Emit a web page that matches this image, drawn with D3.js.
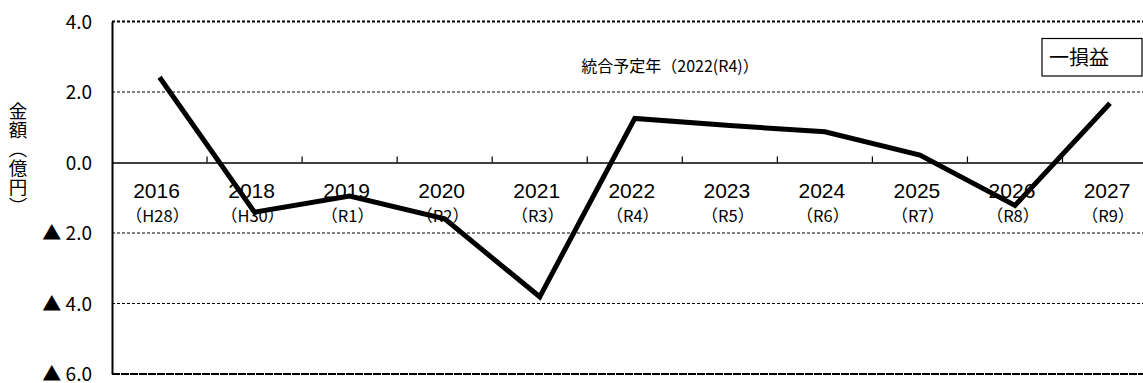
<!DOCTYPE html>
<html><head><meta charset="utf-8">
<script src="https://cdn.jsdelivr.net/npm/d3@7"></script>
<style>body{margin:0;background:#fff;}svg{display:block;}</style>
</head><body>
<svg id="c" width="1143" height="383"></svg>
<script>
const years = ["2016","2018","2019","2020","2021","2022","2023","2024","2025","2026","2027"];
const eras = ["（H28）","（H30）","（R1）","（R2）","（R3）","（R4）","（R5）","（R6）","（R7）","（R8）","（R9）"];
const values = [2.42, -1.41, -0.95, -1.6, -3.81, 1.25, 1.05, 0.87, 0.21, -1.22, 1.68];
const yTicks = [4, 2, 0, -2, -4, -6];
const yTickLabels = ["4.0","2.0","0.0","▲ 2.0","▲ 4.0","▲ 6.0"];
const seriesName = "一損益";
const note = "統合予定年（2022(R4)）";
const yTitle = "金額（億円）";

const svg = d3.select("#c");
const left = 112, bw = 95.05;
const x = d3.scaleBand().domain(years).range([left, left + bw*years.length]);
const y = d3.scaleLinear().domain([-6, 4]).range([374, 21.5]);
const cjk = "'Noto Sans CJK JP', sans-serif";
const num = "'Liberation Sans', 'Noto Sans CJK JP', sans-serif";

// gridlines
svg.append("g").selectAll("line").data(yTicks.filter(d => d !== 0))
  .join("line")
  .attr("x1", left).attr("x2", 1143)
  .attr("y1", d => y(d)).attr("y2", d => y(d))
  .attr("stroke", "#000")
  .attr("stroke-width", d => (d === 4 || d === -6) ? 1.8 : 1)
  .attr("stroke-dasharray", d => d === -6 ? "8,1" : "3,2");

// x axis at zero with upward ticks
const xAxis = d3.axisTop(x).tickSize(0).tickFormat("");
const gx = svg.append("g").attr("transform", `translate(0,${y(0)})`).call(xAxis);
gx.select(".domain").attr("stroke", "#000").attr("stroke-width", 1.5);
gx.selectAll(".tk").data(years.slice(1)).join("line").attr("class","tk")
  .attr("x1", d => x(d)).attr("x2", d => x(d)).attr("y1", 0).attr("y2", -6)
  .attr("stroke", "#000").attr("stroke-width", 1.2);

// y axis
const yAxis = d3.axisLeft(y).tickValues(yTicks).tickSize(0).tickPadding(20)
  .tickFormat((d, i) => yTickLabels[i]);
const gy = svg.append("g").attr("transform", `translate(${left},0)`).call(yAxis);
gy.select(".domain").attr("stroke", "#000").attr("stroke-width", 2);
gy.selectAll("text").attr("font-family", cjk).attr("font-size", 19).attr("fill", "#000")
  .attr("dy", "0.36em");

// category labels
const lab = svg.append("g");
lab.selectAll(".yr").data(years).join("text").attr("class","yr")
  .attr("x", d => x(d) + x.bandwidth()/2 - 3).attr("y", 198)
  .attr("text-anchor", "middle").attr("font-family", num).attr("font-size", 21)
  .text(d => d);
lab.selectAll(".era").data(years).join("text").attr("class","era")
  .attr("x", d => x(d) + x.bandwidth()/2 - 2).attr("y", 222)
  .attr("text-anchor", "middle").attr("font-family", cjk).attr("font-size", 16.5)
  .text((d, i) => eras[i]);

// line
const line = d3.line().x((d, i) => x(years[i]) + x.bandwidth()/2).y(d => y(d));
svg.append("path").datum(values).attr("d", line)
  .attr("fill", "none").attr("stroke", "#000").attr("stroke-width", 5)
  .attr("stroke-linejoin", "miter");

// note
svg.append("text").attr("x", 670).attr("y", 72).attr("text-anchor", "middle")
  .attr("font-family", cjk).attr("font-size", 16).text(note);

// legend
svg.append("rect").attr("x", 1042).attr("y", 38.5).attr("width", 100).attr("height", 37.5)
  .attr("fill", "#fff").attr("stroke", "#000").attr("stroke-width", 1.2);
svg.append("text").attr("x", 1049).attr("y", 65).attr("font-family", cjk)
  .attr("font-size", 20).text(seriesName);

// y title (vertical)
svg.append("text")
  .attr("x", 18).attr("y", 102)
  .attr("writing-mode", "vertical-rl")
  .style("writing-mode", "vertical-rl")
  .attr("font-family", cjk).attr("font-size", 18.5).attr("letter-spacing", 0.5)
  .text(yTitle);
</script>
</body></html>
